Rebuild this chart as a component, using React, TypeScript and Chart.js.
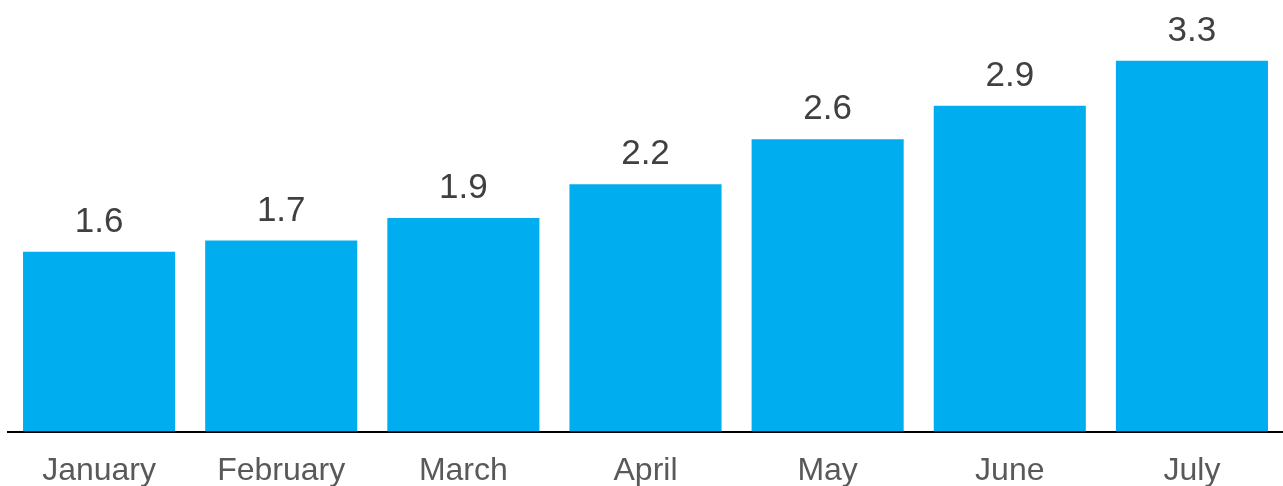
import React, { useEffect, useRef } from "react";
import { Chart, registerables } from "chart.js";

Chart.register(...registerables);

const categories = ["January", "February", "March", "April", "May", "June", "July"];
const values = [1.6, 1.7, 1.9, 2.2, 2.6, 2.9, 3.3];

const barColor = "#00AEEF";
const fontFamily = "'Liberation Sans', Arial, sans-serif";

const valueLabels = {
  id: "valueLabels",
  afterDatasetsDraw(chart: any) {
    const ctx = chart.ctx;
    const meta = chart.getDatasetMeta(0);
    ctx.save();
    ctx.font = `35px ${fontFamily}`;
    ctx.fillStyle = "#404040";
    ctx.textAlign = "center";
    ctx.textBaseline = "alphabetic";
    meta.data.forEach((bar: any, i: number) => {
      const v = chart.data.datasets[0].data[i] as number;
      ctx.fillText(v.toFixed(1), bar.x, bar.y - 20);
    });
    ctx.restore();
  },
};

export default function App() {
  const ref = useRef<HTMLCanvasElement>(null);
  useEffect(() => {
    if (!ref.current) return;
    const chart = new Chart(ref.current, {
      type: "bar",
      data: {
        labels: categories,
        datasets: [
          {
            data: values,
            backgroundColor: barColor,
            borderWidth: 0,
            barPercentage: 0.835,
            categoryPercentage: 1,
          },
        ],
      },
      options: {
        animation: false,
        responsive: false,
        maintainAspectRatio: false,
        layout: { padding: { left: 8, right: 0, top: 0, bottom: 0 } },
        plugins: { legend: { display: false }, tooltip: { enabled: false } },
        scales: {
          x: {
            grid: { display: false, drawTicks: false },
            border: { display: true, color: "#000000", width: 2 },
            ticks: {
              color: "#595959",
              font: { family: fontFamily, size: 32 },
              padding: 20,
              maxRotation: 0,
              autoSkip: false,
            },
          },
          y: {
            display: false,
            min: 0,
            max: 3.84,
          },
        },
      },
      plugins: [valueLabels],
    });
    return () => chart.destroy();
  }, []);
  return (
    <div style={{ position: "absolute", left: 0, top: 0, width: 1283, height: 486, overflow: "hidden" }}>
      <canvas ref={ref} width={1283} height={510} style={{ display: "block" }} />
    </div>
  );
}
